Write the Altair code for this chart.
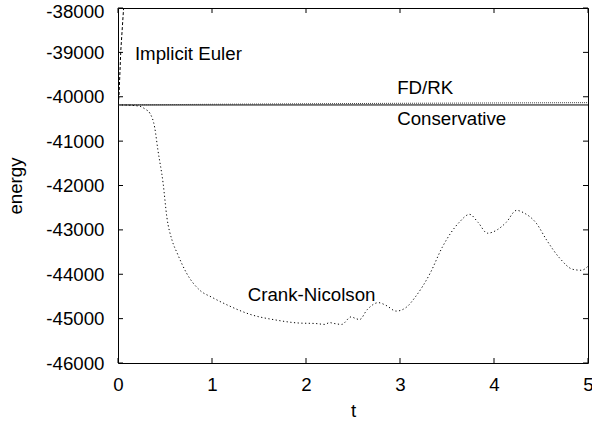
import altair as alt
import pandas as pd

# ---- data ----
t_cons = [0.0, 5.0]
e_cons = [-40185, -40185]

t_fdrk = [0.0, 0.5, 1.0, 2.0, 3.0, 4.0, 5.0]
e_fdrk = [-40185, -40178, -40170, -40158, -40148, -40140, -40133]

t_ie = [0.0, 0.01, 0.03, 0.065, 0.08]
e_ie = [-40185, -40000, -38950, -37830, -37400]

t_cn = [0.0, 0.1, 0.18, 0.234, 0.29, 0.34, 0.39, 0.425, 0.48, 0.52, 0.575, 0.63, 0.73,
        0.87, 1.0, 1.17, 1.40, 1.69, 1.93, 2.1, 2.2, 2.25, 2.3, 2.38, 2.48, 2.53, 2.57,
        2.65, 2.77, 2.85, 2.96, 3.07, 3.16, 3.32, 3.45, 3.63, 3.74, 3.83, 3.93, 4.04,
        4.13, 4.24, 4.32, 4.45, 4.56, 4.70, 4.84, 4.93, 5.0]
e_cn = [-40185, -40188, -40200, -40216, -40280, -40374, -40689, -41207, -41950, -42716,
        -43234, -43526, -43977, -44360, -44520, -44700, -44900, -45035, -45100, -45110,
        -45130, -45090, -45110, -45130, -44960, -45000, -45020, -44800, -44640, -44700,
        -44830, -44740, -44520, -43980, -43390, -42830, -42650, -42830, -43075, -42990,
        -42830, -42560, -42620, -42850, -43230, -43640, -43890, -43910, -43820]

label_text = ["Implicit Euler", "FD/RK", "Conservative", "Crank-Nicolson"]
label_t = [0.18, 2.97, 2.97, 1.38]
label_e = [-39180, -39946, -40644, -44607]

x_ticks = [0, 1, 2, 3, 4, 5]
y_ticks = [-46000, -45000, -44000, -43000, -42000, -41000, -40000, -39000, -38000]

W, H = 470, 355
FONT = "Liberation Sans"
FS = 18.7
TL = 5  # inner tick length

xs = alt.Scale(domain=[0, 5], nice=False, zero=False)
ys = alt.Scale(domain=[-46000, -38000], nice=False, zero=False)

def series(t, e):
    return pd.DataFrame({"t": t, "e": e})

X = alt.X("t:Q", scale=xs,
          axis=alt.Axis(values=x_ticks, title="t", ticks=False, domain=False, grid=False,
                        labelExpr="datum.value + ''",
                        labelFontSize=FS, labelFont=FONT, labelPadding=12,
                        labelColor="black", titleColor="black",
                        titleFont=FONT, titleFontSize=FS, titleFontWeight="normal",
                        titlePadding=8, labelFlush=False))
Y = alt.Y("e:Q", scale=ys,
          axis=alt.Axis(values=y_ticks, title="energy", ticks=False, domain=False, grid=False,
                        labelExpr="datum.value + ''",
                        labelOffset={"condition": {"test": "datum.value == -38000", "value": 3}, "value": 0},
                        labelFontSize=FS, labelFont=FONT, labelPadding=14,
                        labelColor="black", titleColor="black",
                        titleFont=FONT, titleFontSize=FS, titleFontWeight="normal",
                        titlePadding=20, labelFlush=False))

cons = alt.Chart(series(t_cons, e_cons)).mark_line(color="black", strokeWidth=1).encode(x=X, y=Y)
fdrk = alt.Chart(series(t_fdrk, e_fdrk)).mark_line(color="#444", strokeWidth=1, strokeDash=[1, 1]).encode(
    x=alt.X("t:Q", scale=xs), y=alt.Y("e:Q", scale=ys))
ie = alt.Chart(series(t_ie, e_ie)).mark_line(color="black", strokeWidth=1, strokeDash=[3, 2], clip=True).encode(
    x=alt.X("t:Q", scale=xs), y=alt.Y("e:Q", scale=ys))
cn = alt.Chart(series(t_cn, e_cn)).mark_line(color="black", strokeWidth=1, strokeDash=[1.2, 2.5],
                                             interpolate="monotone").encode(
    x=alt.X("t:Q", scale=xs), y=alt.Y("e:Q", scale=ys))

labels = alt.Chart(pd.DataFrame({"txt": label_text, "t": label_t, "e": label_e})).mark_text(
    align="left", baseline="alphabetic", font=FONT, fontSize=FS, color="black").encode(
    x=alt.X("t:Q", scale=xs), y=alt.Y("e:Q", scale=ys), text="txt:N")

xt = pd.DataFrame({"t": x_ticks})
yt = pd.DataFrame({"e": y_ticks})
tick_bottom = alt.Chart(xt).mark_rule(color="black", strokeWidth=1).encode(
    x=alt.X("t:Q", scale=xs), y=alt.value(H), y2=alt.value(H - TL))
tick_top = alt.Chart(xt).mark_rule(color="black", strokeWidth=1).encode(
    x=alt.X("t:Q", scale=xs), y=alt.value(0), y2=alt.value(TL))
tick_left = alt.Chart(yt).mark_rule(color="black", strokeWidth=1).encode(
    y=alt.Y("e:Q", scale=ys), x=alt.value(0), x2=alt.value(TL))
tick_right = alt.Chart(yt).mark_rule(color="black", strokeWidth=1).encode(
    y=alt.Y("e:Q", scale=ys), x=alt.value(W), x2=alt.value(W - TL))

chart = alt.layer(cons, fdrk, ie, cn, labels, tick_bottom, tick_top, tick_left, tick_right).properties(
    width=W, height=H,
    autosize=alt.AutoSizeParams(type="none"),
    padding={"left": 118, "top": 8, "right": 4, "bottom": 60},
    background="white",
).configure_view(stroke="black", strokeWidth=1)

chart.save("out.html", embed_options={"renderer": "svg", "actions": False})
